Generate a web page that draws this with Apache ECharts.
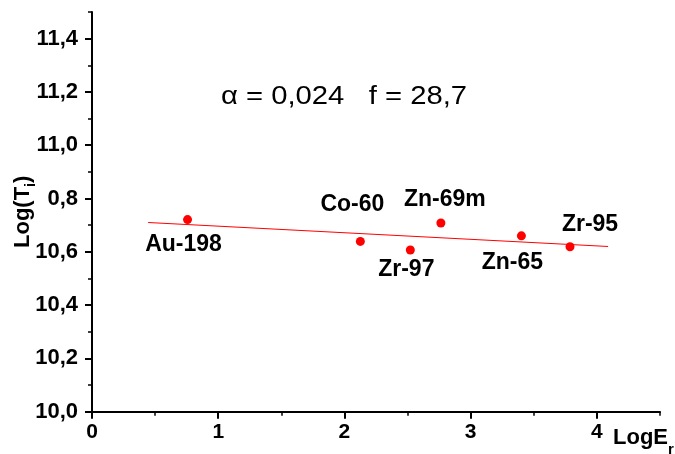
<!DOCTYPE html>
<html><head><meta charset="utf-8">
<script src="https://cdn.jsdelivr.net/npm/echarts@6/dist/echarts.min.js"></script>
<style>html,body{margin:0;padding:0;background:#fff}#c{width:675px;height:454px}</style>
</head><body><div id="c"></div>
<script>
const isotopes = ['Au-198', 'Co-60', 'Zr-97', 'Zn-69m', 'Zn-65', 'Zr-95'];
const logE = [0.757, 2.126, 2.522, 2.764, 3.402, 3.787];
const logT = [10.721, 10.639, 10.607, 10.708, 10.660, 10.619];
const fitX = [0.445, 4.089];
const fitY = [10.710, 10.620];
const xTickValues = [0, 1, 2, 3, 4];
const xTickLabels = ['0', '1', '2', '3', '4'];
const xMinorValues = [0.5, 1.5, 2.5, 3.5, 4.5];
const yTickValues = [10.0, 10.2, 10.4, 10.6, 10.8, 11.0, 11.2, 11.4];
const yTickLabels = ['10,0', '10,2', '10,4', '10,6', '0,8', '11,0', '11,2', '11,4'];
const yMinorValues = [10.1, 10.3, 10.5, 10.7, 10.9, 11.1, 11.3, 11.5];
const annotation = 'α = 0,024   f = 28,7';

// label placement (style only)
const labelOffsets = {
  'Au-198': [-4, 25], 'Co-60': [-8, -37], 'Zr-97': [-4, 20],
  'Zn-69m': [4, -23], 'Zn-65': [-9, 27], 'Zr-95': [20, -22]
};

const FONT = 'Liberation Sans, Arial, sans-serif';
const chart = echarts.init(document.getElementById('c'), null, {renderer: 'canvas'});
const black = '#000';

function findLabel(values, labels, v) {
  for (let i = 0; i < values.length; i++) if (Math.abs(values[i] - v) < 1e-6) return labels[i];
  return '';
}

const option = {
  backgroundColor: '#fff',
  animation: false,
  grid: {left: 92, right: 15, top: 12, bottom: 42.3, containLabel: false, outerBoundsMode: 'none'},
  xAxis: [{
    type: 'value', min: 0, max: 4.5, position: 'bottom',
    axisLine: {show: true, onZero: false, lineStyle: {color: black, width: 2}},
    axisTick: {show: true, customValues: xTickValues, length: 7, lineStyle: {color: black, width: 2}},
    axisLabel: {show: true, customValues: xTickValues, formatter: v => findLabel(xTickValues, xTickLabels, v),
      margin: 10, fontSize: 21, fontWeight: 'bold', color: black, fontFamily: FONT},
    splitLine: {show: false},
    name: '{n|LogE}{s|r}', nameLocation: 'end', nameGap: -47, nameMoveOverlap: false,
    nameTextStyle: {padding: [76, 0, 0, 0], color: black, fontFamily: FONT, fontWeight: 'bold', fontSize: 22,
      rich: {
        n: {fontSize: 22, lineHeight: 22, verticalAlign: 'top', fontWeight: 'bold', fontFamily: FONT, color: black},
        s: {fontSize: 15, lineHeight: 45, verticalAlign: 'middle', fontWeight: 'bold', fontFamily: FONT, color: black}
      }}
  }, {
    type: 'value', min: 0, max: 4.5, position: 'bottom', gridIndex: 0,
    axisLine: {show: false},
    axisTick: {show: true, customValues: xMinorValues, length: 4, lineStyle: {color: black, width: 1.5}},
    axisLabel: {show: false}, splitLine: {show: false}
  }],
  yAxis: [{
    type: 'value', min: 10, max: 11.5, position: 'left',
    axisLine: {show: true, onZero: false, lineStyle: {color: black, width: 2}},
    axisTick: {show: true, customValues: yTickValues, length: 7, lineStyle: {color: black, width: 2}},
    axisLabel: {show: true, customValues: yTickValues, formatter: v => findLabel(yTickValues, yTickLabels, v),
      margin: 14, fontSize: 22, fontWeight: 'bold', color: black, fontFamily: FONT},
    splitLine: {show: false},
    name: '{n|Log(T}{s|i}{n|)}', nameLocation: 'middle', nameRotate: 90, nameGap: 42, nameMoveOverlap: false,
    nameTextStyle: {color: black, fontFamily: FONT, fontWeight: 'bold', fontSize: 22,
      rich: {
        n: {fontSize: 22, lineHeight: 22, verticalAlign: 'top', fontWeight: 'bold', fontFamily: FONT, color: black},
        s: {fontSize: 14, lineHeight: 38, verticalAlign: 'middle', fontWeight: 'bold', fontFamily: FONT, color: black}
      }}
  }, {
    type: 'value', min: 10, max: 11.5, position: 'left', offset: 0,
    axisLine: {show: false},
    axisTick: {show: true, customValues: yMinorValues, length: 4, lineStyle: {color: black, width: 1.5}},
    axisLabel: {show: false}, splitLine: {show: false}
  }],
  series: [{
    type: 'line', xAxisIndex: 0, yAxisIndex: 0,
    data: fitX.map((x, i) => [x, fitY[i]]),
    symbol: 'none', lineStyle: {color: '#ff0000', width: 1, opacity: 1}, z: 2, silent: true
  }, {
    type: 'scatter', xAxisIndex: 0, yAxisIndex: 0,
    symbol: 'circle', symbolSize: 9, itemStyle: {color: '#ff0000', opacity: 1}, z: 3,
    data: logE.map((x, i) => ({
      name: isotopes[i], value: [x, logT[i]],
      label: {offset: labelOffsets[isotopes[i]]}
    })),
    label: {show: true, position: 'inside', formatter: '{b}', color: black, opacity: 1,
      fontSize: 23, fontWeight: 'bold', fontFamily: FONT}
  }],
  graphic: [{
    type: 'text', x: 344, y: 97, scaleX: 1.17,
    style: {text: annotation, fill: black, font: '25px ' + FONT, textAlign: 'center', textVerticalAlign: 'middle'}
  }]
};
chart.setOption(option);
</script>
</body></html>
